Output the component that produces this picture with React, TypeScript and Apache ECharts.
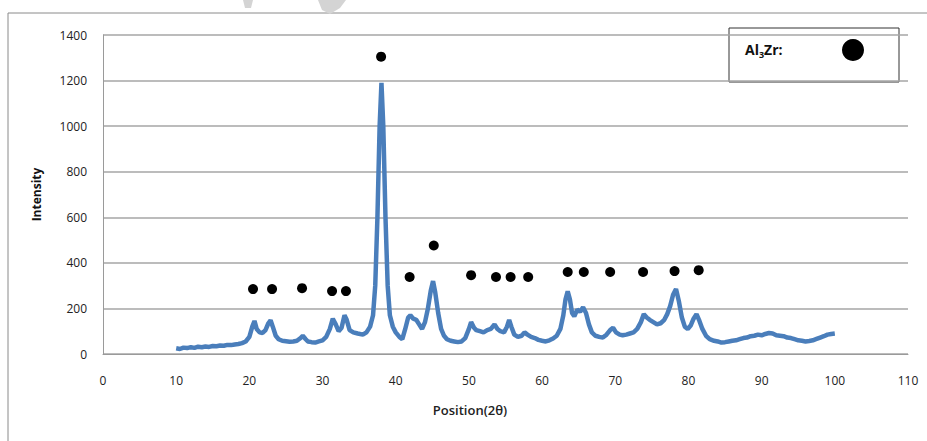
import React, { useEffect, useRef } from "react";
import * as echarts from "echarts";

const positions = [
  10, 10.5, 11, 11.5, 12, 12.5, 13, 13.5, 14, 14.5, 15, 15.5, 16, 16.5, 17, 17.5, 18, 18.5, 19, 19.5,
  20, 20.4, 20.7, 21, 21.4, 21.8, 22.2, 22.6, 22.9, 23.2, 23.6, 24, 24.5, 25, 25.5, 26, 26.5, 27, 27.3, 27.7,
  28, 28.5, 29, 29.5, 30, 30.5, 31, 31.4, 31.8, 32.2, 32.6, 33, 33.3, 33.7, 34.2, 34.8, 35.5, 36, 36.5, 36.9,
  37.2, 37.5, 37.8, 38.05, 38.3, 38.6, 38.9, 39.2, 39.6, 40, 40.5, 40.9, 41.3, 41.7, 42, 42.4, 42.8, 43.2, 43.6, 44,
  44.4, 44.8, 45.1, 45.4, 45.8, 46.2, 46.6, 47, 47.5, 48, 48.5, 49, 49.5, 50, 50.3, 50.7, 51, 51.5, 52, 52.5,
  53, 53.5, 53.9, 54.3, 54.8, 55.2, 55.5, 55.8, 56.2, 56.7, 57.2, 57.6, 58, 58.5, 59, 59.5, 60, 60.5, 61, 61.5,
  62, 62.5, 62.9, 63.2, 63.5, 63.8, 64.1, 64.4, 64.8, 65.2, 65.6, 66, 66.4, 66.8, 67.3, 67.8, 68.3, 68.8, 69.3, 69.7,
  70.1, 70.6, 71, 71.5, 72, 72.5, 73, 73.5, 73.9, 74.3, 74.7, 75.2, 75.7, 76.2, 76.7, 77.1, 77.5, 77.9, 78.3, 78.7,
  79.1, 79.5, 79.9, 80.3, 80.7, 81.1, 81.5, 81.9, 82.4, 82.9, 83.5, 84, 84.5, 85, 85.5, 86, 86.5, 87, 87.5, 88,
  88.5, 89, 89.5, 90, 90.5, 91, 91.5, 92, 92.5, 93, 93.5, 94, 94.5, 95, 95.5, 96, 96.5, 97, 97.5, 98,
  98.5, 99, 99.5, 100,
];

const intensity = [
  25, 22, 28, 26, 30, 27, 32, 30, 33, 31, 35, 34, 37, 36, 40, 39, 42, 44, 48, 55,
  75, 120, 145, 110, 95, 92, 105, 135, 148, 120, 80, 65, 58, 56, 54, 55, 58, 70, 80, 65,
  55, 52, 50, 55, 60, 75, 110, 155, 130, 100, 115, 170, 150, 105, 95, 90, 85, 95, 120, 170,
  300, 600, 1000, 1190, 1000, 600, 300, 170, 120, 95, 75, 65, 110, 160, 170, 155, 150, 130, 110, 140,
  200, 280, 320, 270, 180, 110, 80, 65, 58, 55, 52, 55, 70, 110, 140, 115, 105, 100, 95, 105,
  110, 130, 110, 100, 95, 120, 150, 120, 85, 75, 80, 95, 85, 75, 70, 62, 58, 55, 60, 68,
  80, 110, 170, 240, 275, 240, 180, 165, 195, 185, 205, 180, 130, 95, 80, 75, 72, 85, 105, 115,
  95, 85, 82, 85, 90, 95, 110, 140, 175, 160, 150, 140, 130, 135, 150, 175, 210, 260, 285, 230,
  160, 120, 110, 125, 155, 175, 145, 110, 80, 65, 58, 55, 50, 52, 55, 58, 60, 65, 70, 72,
  78, 80, 85, 82, 88, 92, 90, 82, 80, 78, 72, 70, 65, 60, 58, 55, 57, 60, 66, 72,
  78, 85, 88, 90,
];

const markerPositions = [20.5, 23.1, 27.2, 31.3, 33.2, 38.0, 41.9, 45.2, 50.3, 53.7, 55.7, 58.1, 63.5, 65.7, 69.3, 73.8, 78.1, 81.4];
const markerHeights = [285, 285, 289, 276, 276, 1305, 338, 476, 346, 338, 338, 338, 360, 360, 360, 360, 364, 368];

const xTicks = { min: 0, max: 110, interval: 10 };
const yTicks = { min: 0, max: 1400, interval: 200 };

export default function App() {
  const ref = useRef<HTMLDivElement>(null);
  useEffect(() => {
    if (!ref.current) return;
    const chart = echarts.init(ref.current, undefined, { renderer: "svg" });
    const font = "'Open Sans', 'Liberation Sans', sans-serif";
    chart.setOption({
      animation: false,
      backgroundColor: "#ffffff",
      grid: { left: 103, right: 19, top: 35, bottom: 87, containLabel: false },
      xAxis: {
        type: "value",
        min: xTicks.min,
        max: xTicks.max,
        interval: xTicks.interval,
        axisLine: { show: true, lineStyle: { color: "#9a9a9a", width: 1 } },
        axisTick: { show: false },
        splitLine: { show: false },
        axisLabel: { color: "#222", fontSize: 12, fontFamily: font, margin: 20, formatter: (v: number) => String(v) },
      },
      yAxis: {
        type: "value",
        min: yTicks.min,
        max: yTicks.max,
        interval: yTicks.interval,
        name: "Intensity",
        nameLocation: "middle",
        nameGap: 61,
        nameTextStyle: { fontWeight: "bold", fontSize: 12, color: "#111", fontFamily: font },
        axisLine: { show: true, lineStyle: { color: "#9a9a9a", width: 1 } },
        axisTick: { show: false },
        splitLine: { show: true, lineStyle: { color: "#a6a6a6", width: 1.5 } },
        axisLabel: { color: "#222", fontSize: 12, fontFamily: font, margin: 16, formatter: (v: number) => String(v) },
      },
      series: [
        {
          type: "line",
          data: positions.map((p, i) => [p, intensity[i]]),
          showSymbol: false,
          smooth: false,
          lineStyle: { color: "#4a7ebb", width: 4.5 },
        },
        {
          type: "scatter",
          name: "Al3Zr",
          data: markerPositions.map((p, i) => [p, markerHeights[i]]),
          symbol: "circle",
          symbolSize: 10,
          itemStyle: { color: "#000", opacity: 1 },
        },
      ],
      graphic: [
        {
          type: "rect",
          shape: { x: 8, y: 13, width: 940, height: 460 },
          style: { fill: "none", stroke: "#8a8a8a", lineWidth: 1 },
          silent: true,
        },
        {
          type: "polygon",
          shape: { points: [[243, 0], [253, 0], [251, 8], [245, 8]] },
          style: { fill: "#d4d4d4" },
          silent: true,
        },
        {
          type: "polygon",
          shape: { points: [[318, 0], [346, 0], [340, 8], [330, 14], [322, 10]] },
          style: { fill: "#d4d4d4" },
          silent: true,
        },
        {
          type: "rect",
          shape: { x: 729, y: 28, width: 170, height: 54 },
          style: { fill: "#fff", stroke: "#333", lineWidth: 1 },
        },
        {
          type: "text",
          x: 745,
          y: 42,
          style: {
            text: "{a|Al}{s|3}{a|Zr:}",
            rich: {
              a: { fontSize: 14, fontWeight: "bold", fontFamily: font, fill: "#111", verticalAlign: "bottom" },
              s: { fontSize: 9, fontWeight: "bold", fontFamily: font, fill: "#111", verticalAlign: "bottom", padding: [0, 0, -3, 0] },
            },
          },
        },
        {
          type: "circle",
          shape: { cx: 853, cy: 50, r: 11 },
          style: { fill: "#000" },
        },
        {
          type: "text",
          x: 470,
          y: 410,
          style: {
            text: "Position(2θ)",
            fontSize: 13,
            fontWeight: 600,
            fontFamily: font,
            fill: "#222",
            align: "center",
            verticalAlign: "middle",
          },
        },
      ],
    });
    return () => chart.dispose();
  }, []);
  return (
    <div
      ref={ref}
      style={{ position: "fixed", left: 0, top: 0, width: 927, height: 441 }}
    />
  );
}
